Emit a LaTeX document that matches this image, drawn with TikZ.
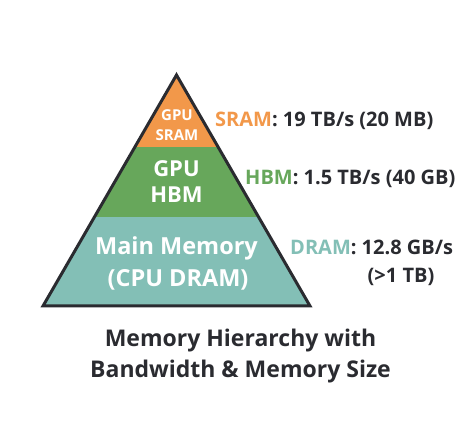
\documentclass[tikz,border=0pt]{standalone}
\usepackage{fontspec}
\setmainfont{Open Sans}
\definecolor{sramc}{HTML}{F2984A}
\definecolor{hbmc}{HTML}{67A75B}
\definecolor{dramc}{HTML}{83BFB6}
\definecolor{darkc}{HTML}{2A2B30}
\begin{document}
\begin{tikzpicture}[x=1pt,y=1pt,
  inlabel/.style={text=white,font=\bfseries,anchor=base,inner sep=0pt},
  sidelabel/.style={text=darkc,font=\bfseries\fontsize{20}{24}\selectfont,anchor=base west,inner sep=0pt},
  titlelabel/.style={text=darkc,font=\bfseries\fontsize{23}{28}\selectfont,anchor=base,inner sep=0pt}]
\useasboundingbox (0,0) rectangle (472,444);
\coordinate (apex) at (176.5,369);
\coordinate (bl) at (43,138);
\coordinate (br) at (310,138);
\begin{scope}
  \clip (apex) -- (br) -- (bl) -- cycle;
  \fill[sramc] (0,297) rectangle (472,444);
  \fill[hbmc] (0,227) rectangle (472,297);
  \fill[dramc] (0,0) rectangle (472,227);
\end{scope}
\draw[line width=3pt,line join=miter,darkc] (apex) -- (br) -- (bl) -- cycle;
% inside labels
\node[inlabel,font=\bfseries\fontsize{15}{16}\selectfont] (s1) at (177,323) {GPU};
\node[inlabel,font=\bfseries\fontsize{15}{16}\selectfont] (s2) at (177,303) {SRAM};
\node[inlabel,font=\bfseries\fontsize{22}{26}\selectfont] (h1) at (176.5,267) {GPU};
\node[inlabel,font=\bfseries\fontsize{22}{26}\selectfont] (h2) at (176.5,241) {HBM};
\node[inlabel,font=\bfseries\fontsize{23.5}{28}\selectfont] (d1) at (176.5,189) {Main Memory};
\node[inlabel,font=\bfseries\fontsize{23.5}{28}\selectfont] (d2) at (178,157) {(CPU DRAM)};
% side labels
\node[sidelabel] (ls) at (215,317) {\textcolor{sramc}{SRAM}: 19 TB/s (20 MB)};
\node[sidelabel] (lh) at (245,259) {\textcolor{hbmc}{HBM}: 1.5 TB/s (40 GB)};
\node[sidelabel] (ld) at (290,189) {\textcolor{dramc}{DRAM}: 12.8 GB/s};
\node[sidelabel,anchor=base] (ld2) at (401,161) {(>1 TB)};
% title
\node[titlelabel] (t1) at (240.5,97) {Memory Hierarchy with};
\node[titlelabel] (t2) at (240.5,66) {Bandwidth \& Memory Size};
\end{tikzpicture}
\end{document}
